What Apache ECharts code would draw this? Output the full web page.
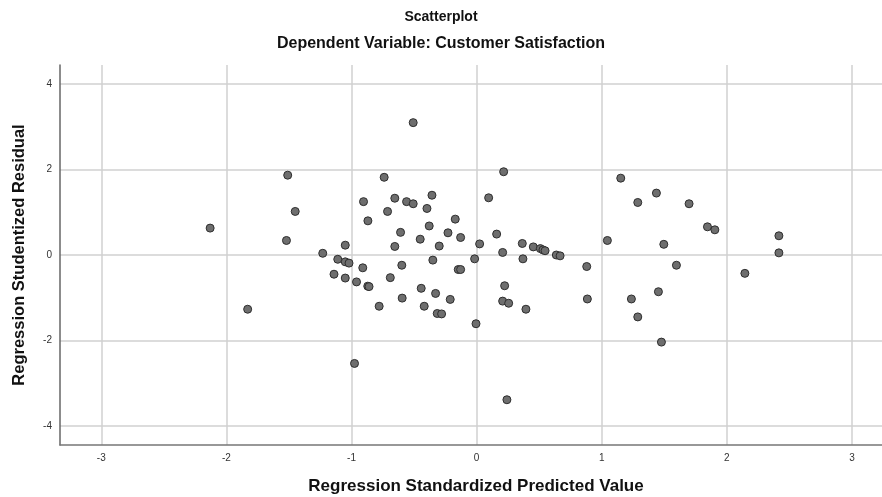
<!DOCTYPE html>
<html lang="en" style="height: 100%">
<head>
  <meta charset="utf-8">
</head>
<body style="height: 100%; margin: 0; background: #fff">
  <div id="container" style="width: 882px; height: 497px"></div>

  <script type="text/javascript" src="https://fastly.jsdelivr.net/npm/echarts@6.0.0/dist/echarts.min.js"></script>
  <script type="text/javascript">
    // regression standardized predicted value (x) / studentized residual (y)
    var predicted = [
      -2.13, -1.83, -1.51, -1.45, -1.52, -1.23, -1.11, -1.05, -1.02, -1.14,
      -1.05, -1.05, -0.976, -0.96, -0.91, -0.904, -0.869, -0.87, -0.86, -0.779,
      -0.739, -0.712, -0.69, -0.654, -0.654, -0.608, -0.598, -0.595, -0.56, -0.507,
      -0.507, -0.451, -0.443, -0.419, -0.397, -0.379, -0.357, -0.35, -0.328, -0.315,
      -0.28, -0.299, -0.229, -0.211, -0.171, -0.147, -0.128, -0.128, -0.016, -0.005,
      0.024, 0.096, 0.16, 0.208, 0.208, 0.216, 0.224, 0.242, 0.256, 0.365,
      0.37, 0.394, 0.453, 0.509, 0.53, 0.547, 0.637, 0.667, 0.88, 0.885,
      1.045, 1.152, 1.237, 1.288, 1.288, 1.437, 1.453, 1.477, 1.496, 1.597,
      1.698, 1.845, 1.904, 2.144, 2.416, 2.416
    ];
    var residual = [
      0.63, -1.27, 1.87, 1.02, 0.34, 0.04, -0.10, -0.16, -0.19, -0.45,
      -0.54, 0.23, -2.54, -0.63, -0.30, 1.25, 0.80, -0.73, -0.74, -1.20,
      1.82, 1.02, -0.53, 1.33, 0.20, 0.53, -0.24, -1.01, 1.25, 1.20,
      3.10, 0.37, -0.78, -1.20, 1.09, 0.68, 1.40, -0.12, -0.90, -1.37,
      -1.38, 0.21, 0.52, -1.04, 0.84, -0.34, -0.34, 0.41, -0.09, -1.61,
      0.26, 1.34, 0.49, 0.06, -1.08, 1.95, -0.72, -3.39, -1.13, 0.27,
      -0.09, -1.27, 0.19, 0.15, 0.12, 0.10, 0.00, -0.02, -0.27, -1.03,
      0.34, 1.80, -1.03, 1.23, -1.45, 1.45, -0.86, -2.04, 0.25, -0.24,
      1.20, 0.66, 0.59, -0.43, 0.45, 0.05
    ];
    var xTicks = [-3, -2, -1, 0, 1, 2, 3];
    var yTicks = [-4, -2, 0, 2, 4];

    var points = predicted.map(function (x, i) {
      return [x, residual[i]];
    });

    var dom = document.getElementById('container');
    var myChart = echarts.init(dom, null, { renderer: 'canvas' });

    var option = {
      backgroundColor: '#fff',
      animation: false,
      title: [
        {
          text: 'Scatterplot',
          left: 'center',
          top: 5,
          textStyle: { fontFamily: 'Liberation Sans', fontSize: 14, fontWeight: 'bold', color: '#111' }
        },
        {
          text: 'Dependent Variable: Customer Satisfaction',
          left: 'center',
          top: 31,
          textStyle: { fontFamily: 'Liberation Sans', fontSize: 16, fontWeight: 'bold', color: '#111' }
        }
      ],
      grid: { left: 60, right: 0, top: 65, bottom: 52, outerBoundsMode: 'none' },
      xAxis: {
        type: 'value',
        min: -3.33,
        max: 3.24,
        name: 'Regression Standardized Predicted Value',
        nameLocation: 'middle',
        nameGap: 33,
        nameTextStyle: { fontFamily: 'Liberation Sans', fontSize: 17, fontWeight: 'bold', color: '#111', padding: [0, 0, 0, 10] },
        axisLine: { show: true, onZero: false, lineStyle: { color: '#777', width: 1.5 } },
        axisTick: { show: false, customValues: xTicks },
        axisLabel: { customValues: xTicks, fontFamily: 'Liberation Sans', fontSize: 10, color: '#333', margin: 8 },
        splitLine: { show: true, lineStyle: { color: '#d0d0d0', width: 1.5 } }
      },
      yAxis: {
        type: 'value',
        min: -4.45,
        max: 4.45,
        name: 'Regression Studentized Residual',
        nameLocation: 'middle',
        nameGap: 32,
        nameTextStyle: { fontFamily: 'Liberation Sans', fontSize: 16.5, fontWeight: 'bold', color: '#111' },
        axisLine: { show: true, onZero: false, lineStyle: { color: '#666', width: 1.5 } },
        axisTick: { show: false, customValues: yTicks },
        axisLabel: { customValues: yTicks, fontFamily: 'Liberation Sans', fontSize: 10, color: '#333', margin: 8 },
        splitLine: { show: true, lineStyle: { color: '#d0d0d0', width: 1.5 } }
      },
      series: [
        {
          type: 'scatter',
          data: points,
          symbolSize: 8,
          itemStyle: { color: '#6e6e6e', borderColor: '#2e2e2e', borderWidth: 1, opacity: 1 }
        }
      ]
    };

    myChart.setOption(option);
    window.addEventListener('resize', myChart.resize);
  </script>
</body>
</html>
